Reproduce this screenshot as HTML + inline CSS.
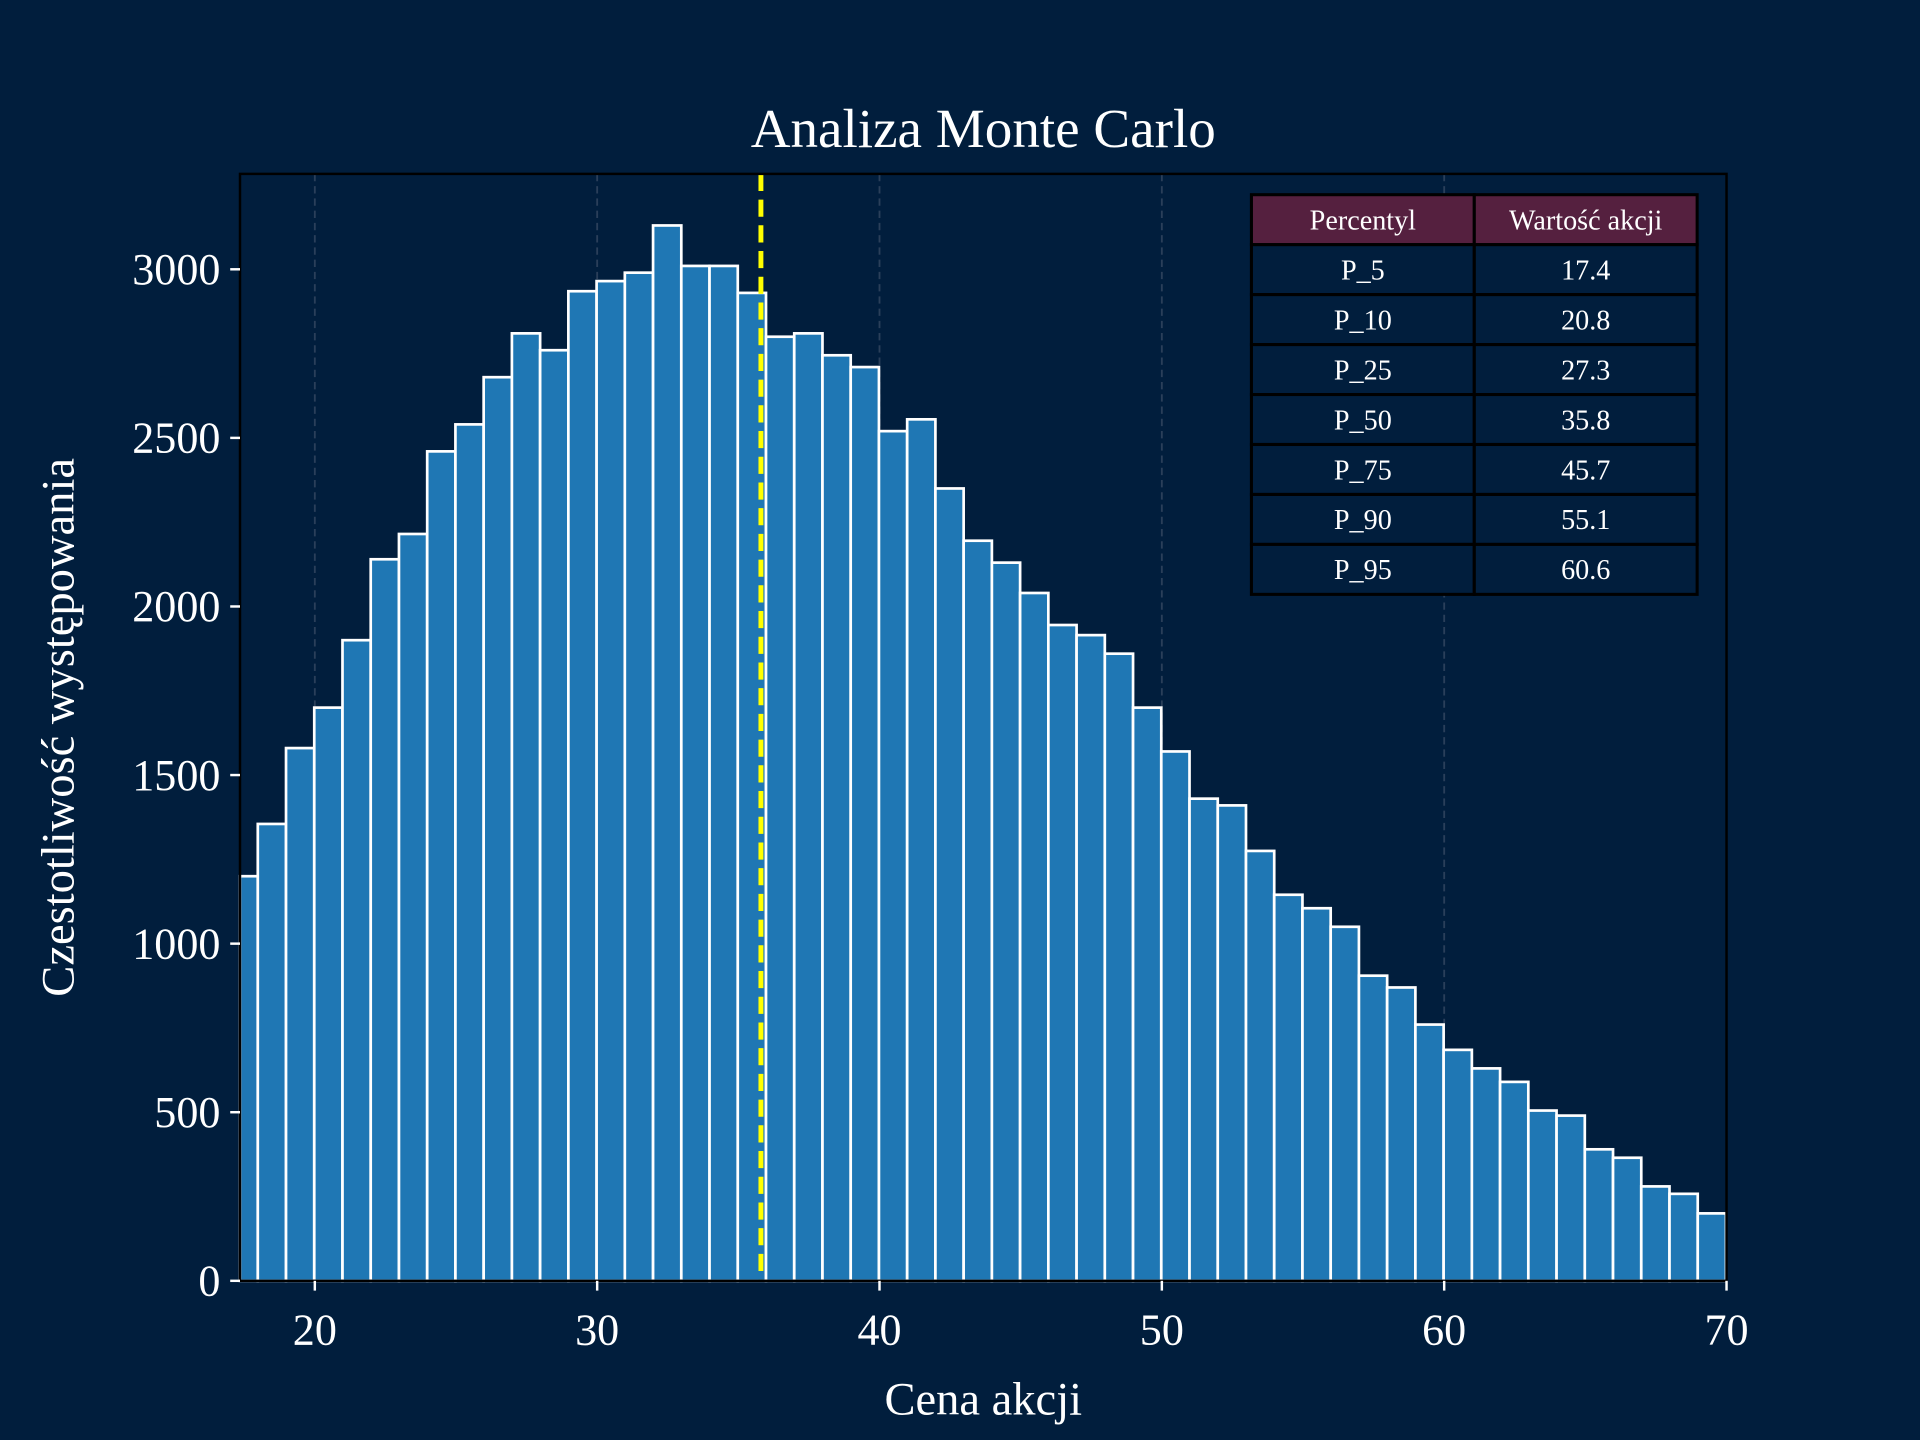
<!DOCTYPE html>
<html><head><meta charset="utf-8"><style>
html,body{margin:0;padding:0;background:#011e3d;width:1920px;height:1440px;overflow:hidden}
svg{display:block;font-family:"Liberation Serif",serif}
</style></head><body>
<svg id="chart" width="1920" height="1440" viewBox="0 0 1568 1176" xmlns="http://www.w3.org/2000/svg">
<rect x="0" y="0" width="1568" height="1176" fill="#011e3d"/>
<g id="grid"></g>
<g id="bars"></g>
<g id="axes"></g>
<g id="table"></g>
<text x="803" y="120" text-anchor="middle" fill="#fff" font-size="45">Analiza Monte Carlo</text>
<text x="803" y="1155" text-anchor="middle" fill="#fff" font-size="38">Cena akcji</text>
<text transform="translate(60,594) rotate(-90)" text-anchor="middle" fill="#fff" font-size="38">Czestotliwość występowania</text>
</svg>
<script>
const binStart = 16.98;
const binWidth = 1.0;
const counts = [1200,1355,1580,1700,1900,2140,2215,2460,2540,2680,2810,2760,2935,2965,2990,3130,3010,3010,2930,2800,2810,2745,2710,2520,2555,2350,2195,2130,2040,1945,1915,1860,1700,1570,1430,1410,1275,1145,1105,1050,905,870,760,685,630,590,505,490,390,365,280,258,200];
const xTicks = [20,30,40,50,60,70];
const yTicks = [0,500,1000,1500,2000,2500,3000];
const medianValue = 35.8;
const pctLabels = ["P_5","P_10","P_25","P_50","P_75","P_90","P_95"];
const pctValues = ["17.4","20.8","27.3","35.8","45.7","55.1","60.6"];

const L=196,R=1410,T=142,B=1046;
const xMin=17.35,xMax=70,yMax=3283;
const sx=v=>L+(v-xMin)/(xMax-xMin)*(R-L);
const sy=v=>B-v/yMax*(B-T);
const NS="http://www.w3.org/2000/svg";
function mk(tag,attrs,parent){const e=document.createElementNS(NS,tag);for(const k in attrs)e.setAttribute(k,attrs[k]);parent.appendChild(e);return e;}
const grid=document.getElementById('grid'),bars=document.getElementById('bars'),axes=document.getElementById('axes'),table=document.getElementById('table');

xTicks.forEach(t=>{
  if(t<xMax){const g=mk('line',{x1:sx(t),x2:sx(t),y1:T,y2:B,stroke:'#2a3f5a','stroke-width':1.5,'stroke-dasharray':'6,4'},grid);
  
  }
});

counts.forEach((c,i)=>{
  let x0=Math.max(binStart+i*binWidth,xMin), x1=binStart+(i+1)*binWidth;
  const r=mk('rect',{x:sx(x0),y:sy(c),width:sx(x1)-sx(x0),height:sy(0)-sy(c),fill:'#1f77b4',stroke:'#fff','stroke-width':2.2},bars);
  
  
});

const med=mk('line',{x1:sx(medianValue),x2:sx(medianValue),y1:T,y2:B,stroke:'#ffff00','stroke-width':4,'stroke-dasharray':'14,7'},bars);



const frame=mk('rect',{x:L,y:T,width:R-L,height:B-T,fill:'none',stroke:'#000','stroke-width':2},axes);



xTicks.forEach(t=>{
  mk('line',{x1:sx(t),x2:sx(t),y1:B,y2:B+8,stroke:'#fff','stroke-width':2},axes);
  const tx=mk('text',{x:sx(t),y:B+52,'text-anchor':'middle',fill:'#fff','font-size':36},axes);
  tx.textContent=t;
  
  
});
yTicks.forEach(t=>{
  mk('line',{x1:L-8,x2:L,y1:sy(t),y2:sy(t),stroke:'#fff','stroke-width':2},axes);
  const tx=mk('text',{x:L-16,y:sy(t)+12,'text-anchor':'end',fill:'#fff','font-size':36},axes);
  tx.textContent=t;
  
  
});

const tx0=1022,colW=182,rowH=40.8,ty0=159;
const headers=["Percentyl","Wartość akcji"];
for(let r=0;r<=pctLabels.length;r++){
  for(let c=0;c<2;c++){
    const cell=mk('rect',{x:tx0+c*colW,y:ty0+r*rowH,width:colW,height:rowH,fill:r===0?'#55203f':'#011e3d',stroke:'#000','stroke-width':2.5},table);
    
    
    const t=mk('text',{x:tx0+c*colW+colW/2,y:ty0+r*rowH+rowH/2+8,'text-anchor':'middle',fill:'#fff','font-size':23},table);
    t.textContent=r===0?headers[c]:(c===0?pctLabels[r-1]:pctValues[r-1]);
    
    
  }
}
</script>
</body></html>
